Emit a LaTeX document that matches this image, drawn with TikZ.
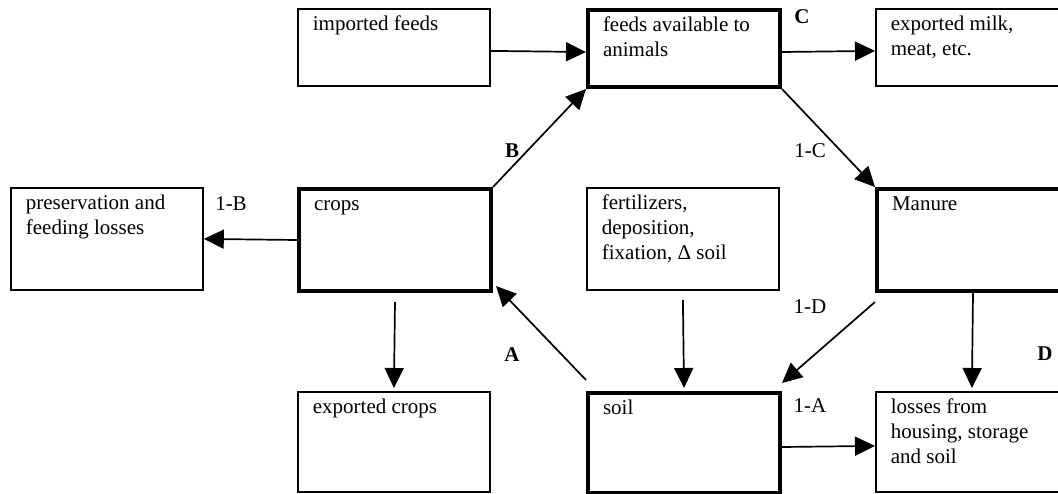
\documentclass[tikz,border=0pt]{standalone}
\usepackage{fontspec}
\setmainfont{Liberation Serif}
\usetikzlibrary{arrows.meta,calc}
\newcommand{\bxt}[2]{\parbox[c][#1][t]{192pt}{\raggedright\leftskip=15pt\rule{0pt}{21.5pt}#2}}
\begin{document}
\begin{tikzpicture}[x=1pt,y=-1pt,
 every node/.style={font=\fontsize{21pt}{25pt}\selectfont},
 thinbox/.style={draw,line width=1.8pt,inner sep=0pt,anchor=north west},
 thickbox/.style={draw,line width=4pt,inner sep=0pt,anchor=north west},
 arr/.style={line width=1.7pt,-{Triangle[length=20pt,width=19pt]}},
 lbl/.style={inner sep=0pt},
 blbl/.style={inner sep=0pt,font=\fontsize{21pt}{25pt}\selectfont\bfseries}]
\useasboundingbox (0,0) rectangle (1058,493);
\clip (0,0) rectangle (1058,493);
\node[thinbox] (imp) at (297,8) {\bxt{77pt}{imported feeds}};
\node[thickbox] (feeds) at (586,8) {\bxt{77pt}{feeds available to\\animals}};
\node[thinbox] (milk) at (875,8) {\bxt{77pt}{exported milk,\\meat, etc.}};
\node[thinbox] (pres) at (10,187) {\bxt{102pt}{preservation and\\feeding losses}};
\node[thickbox] (crops) at (297,187) {\bxt{102pt}{crops}};
\node[thinbox] (fert) at (586,187) {\bxt{102pt}{fertilizers,\\deposition,\\fixation, Δ soil}};
\node[thickbox] (manure) at (875,187) {\bxt{102pt}{Manure}};
\node[thinbox] (expc) at (297,391) {\bxt{100pt}{exported crops}};
\node[thickbox] (soil) at (586,391) {\bxt{100pt}{soil}};
\node[thinbox] (loss) at (875,391) {\bxt{100pt}{losses from\\housing, storage\\and soil}};
\draw[arr] ([yshift=-3.5pt]imp.east) -- ([yshift=-3.5pt]feeds.west);
\draw[arr] ([yshift=-3.5pt]feeds.east) -- ([yshift=-3.5pt]milk.west);
\draw[arr] (crops.west) -- (pres.east);
\draw[arr] ([yshift=-9pt]crops.south) -- ([yshift=3pt]expc.north);
\draw[arr] ([yshift=-9pt]fert.south) -- ([yshift=3pt]soil.north);
\draw[arr] (manure.south) -- ([yshift=3pt]loss.north);
\draw[arr] ([yshift=-4pt]soil.east) -- ([yshift=-4pt]loss.west);
\draw[arr] (crops.north east) -- (feeds.south west);
\draw[arr] (feeds.south east) -- (manure.north west);
\draw[arr] ([yshift=11pt]soil.north west) -- ([yshift=7pt,xshift=3pt]crops.south east);
\draw[arr] ([yshift=-9pt]manure.south west) -- ([yshift=8pt]soil.north east);
\node[blbl] (lC) at (802,17) {C};
\node[blbl] (lB) at (512,151) {B};
\node[lbl] (l1C) at (810,151) {1-C};
\node[lbl] (l1B) at (231,204) {1-B};
\node[blbl] (lA) at (512,355) {A};
\node[lbl] (l1D) at (810,307) {1-D};
\node[lbl] (l1A) at (810,406) {1-A};
\node[blbl] (lD) at (1045,354) {D};
\end{tikzpicture}
\end{document}
